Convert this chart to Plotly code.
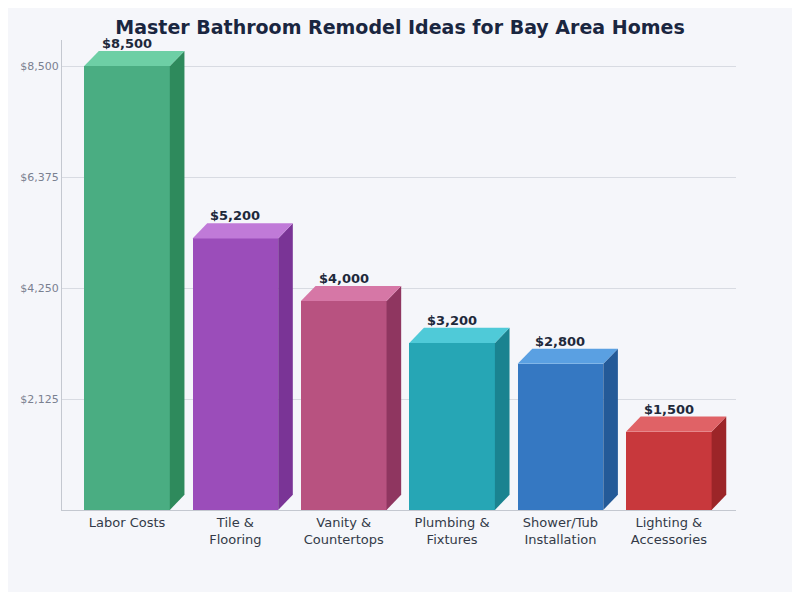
import plotly.graph_objects as go

categories = ["Labor Costs", "Tile &<br>Flooring", "Vanity &<br>Countertops",
              "Plumbing &<br>Fixtures", "Shower/Tub<br>Installation", "Lighting &<br>Accessories"]
costs = [8500, 5200, 4000, 3200, 2800, 1500]
front_colors = ["#4aad82", "#9b4dba", "#b85280", "#26a6b5", "#3578c2", "#c8383c"]
top_colors = ["#6dcfa5", "#c07ad8", "#d677a6", "#4fcad8", "#5aa0e2", "#e06266"]
side_colors = ["#2e8a5c", "#7a3496", "#8f3660", "#1a8390", "#245a98", "#9c2528"]
tick_vals = [2125, 4250, 6375, 8500]
tick_text = ["$2,125", "$4,250", "$6,375", "$8,500"]

BAR_W = 0.79
DX = 0.135   # depth offset in category units
DY = 290     # depth offset in value units

fig = go.Figure()
for i, v in enumerate(costs):
    x0, x1 = i - BAR_W / 2, i + BAR_W / 2
    # side face
    fig.add_trace(go.Scatter(
        x=[x1, x1 + DX, x1 + DX, x1, x1], y=[0, DY, v + DY, v, 0],
        fill="toself", fillcolor=side_colors[i], mode="lines",
        line=dict(width=0, color=side_colors[i]), hoverinfo="skip", showlegend=False))
    # top face
    fig.add_trace(go.Scatter(
        x=[x0, x1, x1 + DX, x0 + DX, x0], y=[v, v, v + DY, v + DY, v],
        fill="toself", fillcolor=top_colors[i], mode="lines",
        line=dict(width=0, color=top_colors[i]), hoverinfo="skip", showlegend=False))

fig.add_trace(go.Bar(
    x=list(range(len(costs))), y=costs, width=BAR_W,
    marker=dict(color=front_colors, line=dict(width=0)), showlegend=False,
    hovertemplate="%{y:$,.0f}<extra></extra>"))

for i, v in enumerate(costs):
    fig.add_annotation(x=i, y=v + DY, text=f"<b>${v:,}</b>", showarrow=False,
                       yanchor="bottom", yshift=-2,
                       font=dict(size=13, color="#1e293b"))

fig.update_layout(
    title=dict(text="<b>Master Bathroom Remodel Ideas for Bay Area Homes</b>",
               x=0.5, y=0.967, yanchor="middle", font=dict(size=19, color="#1a2640")),
    font=dict(family="DejaVu Sans"),
    paper_bgcolor="#f5f6fa", plot_bgcolor="#f5f6fa",
    margin=dict(l=52, r=56, t=32, b=82),
    xaxis=dict(range=[-0.6, 5.62], tickvals=list(range(len(categories))),
               ticktext=categories, showgrid=False, showline=True,
               linecolor="#c4c8d0", tickfont=dict(size=13, color="#333a48"), zeroline=False),
    yaxis=dict(range=[0, 9000], tickvals=tick_vals, ticktext=tick_text,
               showgrid=True, gridcolor="#d8dbe2", showline=True, linecolor="#c4c8d0",
               tickfont=dict(size=11, color="#7a8090"), zeroline=False),
    bargap=0,
)

fig.write_html("out.html")
